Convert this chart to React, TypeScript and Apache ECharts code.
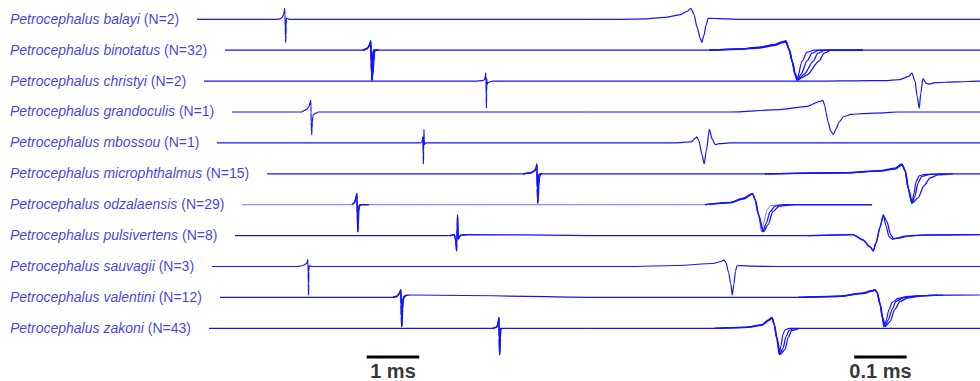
import { useEffect, useRef } from 'react';
import * as echarts from 'echarts';

// ---------- data ----------
const GENUS = 'Petrocephalus';
const SPECIES = ['balayi', 'binotatus', 'christyi', 'grandoculis', 'mbossou', 'microphthalmus', 'odzalaensis', 'pulsivertens', 'sauvagii', 'valentini', 'zakoni'];
const N_FISH = [2, 32, 2, 1, 1, 15, 29, 8, 3, 12, 43];
// start of each recording on the 1 ms time base (ms)
const TRACE_START_MS = [3.752, 4.286, 3.886, 4.419, 4.133, 5.086, 4.61, 4.476, 4.038, 4.19, 3.981];
// EOD position on the 1 ms sweep and on the 0.1 ms (expanded) sweep, in ms
const EOD_AT_1MS = [5.429, 7.067, 9.257, 5.924, 8.057, 10.229, 6.8, 8.705, 5.867, 7.638, 9.505];
const EOD_AT_01MS = [1.3238, 1.5029, 1.7429, 1.5733, 1.3333, 1.7238, 1.4381, 1.6724, 1.3848, 1.6724, 1.4743];
const RECORD_TRUNCATED = [false, false, false, false, false, false, true, false, false, false, false];

// EOD waveforms: [time (µs, relative to main transition), amplitude (a.u., up positive)]
const EOD_BALAYI = [
  [[-152, 0], [-95, 0.5], [-57, 2], [-29, 4.5], [-15, 8], [-8, 11], [-2, 5], [4, -8], [10, -19], [13, -23], [17, -16], [21, -6], [25, 1], [36, 0.8], [57, 0.4], [86, 0]],
];
const EOD_BINOTATUS = [
  [[-152, 0], [-95, 1], [-57, 2.5], [-29, 5], [-11, 8], [-6, 8.6], [0, 0], [6, -12], [11, -24], [15, -30], [25, -11], [34, -2], [48, 0], [141, 0]],
  [[-152, 0], [-95, 1.2], [-57, 3], [-29, 5.5], [-11, 8.8], [-6, 9.6], [0, 1], [6, -11], [11, -23], [16, -30], [23, -24], [34, -11], [44, -3], [57, 0], [141, 0]],
  [[-152, 0], [-95, 0.8], [-57, 2.2], [-29, 4.6], [-11, 7.5], [-5, 8], [1, 0], [7, -12], [12, -25], [17, -30], [29, -24], [46, -11], [55, -3], [69, 0], [141, 0]],
  [[-152, 0], [-95, 1], [-57, 2.6], [-29, 5.2], [-11, 8.3], [-6, 9], [0, 1], [7, -13], [12, -24], [18, -29], [34, -25], [57, -11], [67, -3], [80, 0], [141, 0]],
];
const EOD_CHRISTYI = [
  [[-170, 0], [-114, 0.3], [-57, 0.5], [-29, 1.5], [-11, 5], [-6, 8], [0, 0], [4, -15], [8, -27], [11, -12], [15, 2.5], [21, -2], [27, -3], [38, -1.5], [76, -0.8], [124, 0]],
];
const EOD_GRANDOCULIS = [
  [[-183, 0], [-88, 2.4], [-36, 5.7], [-11, 10.7], [-6, 11.7], [-2, 6], [0, 0], [4, -10], [9, -19], [14, -22.6], [19, -17], [25, -10], [34, -4.5], [48, -2.4], [70, -1.6], [110, -0.8], [135, 0]],
];
const EOD_MBOSSOU = [
  [[-48, 0], [-17, 1], [-8, 5], [-6, 6], [-2, 2], [4, -12], [8, -21], [12, -8], [18, 13.5], [23, 4], [29, -1.8], [36, -0.8], [57, 0]],
];
const EOD_MICROPHTHALMUS = [
  [[-267, 0], [-114, 1], [-48, 2.8], [-19, 5], [-6, 9.5], [0, 3], [6, -15], [13, -29.5], [17, -20], [21, -8], [27, -2], [38, -0.5], [67, 0]],
  [[-267, 0], [-114, 1.2], [-48, 3.2], [-19, 5.6], [-6, 9.8], [0, 3.5], [6, -14], [13, -29], [19, -22], [25, -9], [32, -2.5], [48, -0.5], [76, 0]],
  [[-267, 0], [-114, 0.9], [-48, 2.6], [-19, 4.6], [-5, 9], [1, 2.5], [7, -15], [14, -29], [25, -24], [36, -12], [48, -4], [63, -1], [91, 0]],
];
const EOD_ODZALAENSIS = [
  [[-95, 0], [-48, 2], [-23, 6], [-5, 11], [0, 5], [6, -10], [13, -27.4], [17, -17], [23, -5], [30, -1], [48, 0], [223, 0]],
  [[-95, 0], [-48, 2.3], [-23, 6.5], [-5, 11.3], [0, 5.5], [6, -9], [15, -27], [21, -19], [29, -7], [38, -1.5], [57, 0], [223, 0]],
  [[-95, 0], [-48, 1.8], [-23, 5.5], [-4, 10.5], [1, 4.5], [7, -10], [16, -27], [25, -20], [34, -7], [46, -1.5], [76, 0], [223, 0]],
];
const EOD_PULSIVERTENS = [
  [[-133, 0], [-48, 1], [-29, -4], [-15, -11], [-9, -15.5], [-4, -8], [4, 8], [10, 21], [15, 10], [21, -1], [27, -3.5], [36, -2.5], [51, -0.5], [76, 0.5], [191, 1]],
  [[-133, 0], [-48, 1], [-29, -4.5], [-15, -11.5], [-9, -15], [-4, -7], [4, 9], [10, 20], [17, 14], [24, 1], [30, -3], [40, -2.5], [57, -0.5], [86, 0.5], [191, 1]],
];
const EOD_SAUVAGII = [
  [[-191, 0], [-95, 1], [-27, 3], [-11, 5], [-6, 6.7], [-2, 4], [3, -6], [7, -17], [10, -28.6], [13, -18], [16, -5], [19, 0.7], [25, 0.8], [48, 0.3], [95, 0]],
];
const EOD_VALENTINI = [
  [[-152, 0], [-76, 1], [-29, 4], [-11, 6.5], [-6, 7.4], [-2, 5], [4, -8], [8, -20], [11, -29.3], [15, -24], [21, -12], [27, -5], [38, -1], [57, 1], [95, 2], [194, 2.4]],
  [[-152, 0], [-76, 1.2], [-29, 4.4], [-11, 7], [-6, 7.8], [-2, 5.5], [4, -7], [8, -19], [13, -29], [19, -23], [27, -12], [34, -4], [48, -0.5], [76, 1.5], [114, 2.2]],
  [[-152, 0], [-76, 0.9], [-29, 3.8], [-11, 6.2], [-5, 7.2], [-1, 4.5], [5, -8], [9, -20], [14, -29], [23, -24], [32, -12], [42, -4], [57, -0.5], [86, 1.5], [124, 2.2]],
];
const EOD_ZAKONI = [
  [[-114, 0], [-51, 1], [-23, 3.3], [-11, 8], [-4, 10.6], [0, 4], [5, -10], [10, -26.7], [13, -18], [17, -6], [21, -1.5], [29, 0]],
  [[-114, 0], [-51, 1.2], [-23, 3.6], [-11, 8.4], [-4, 11], [0, 4.5], [5, -9], [11, -26], [17, -20], [23, -8], [29, -2], [38, 0]],
  [[-114, 0], [-51, 0.9], [-23, 3], [-10, 7.6], [-3, 10.2], [1, 3.5], [6, -10], [12, -26], [21, -21], [27, -9], [34, -2], [48, 0]],
];
const EODS = [EOD_BALAYI, EOD_BINOTATUS, EOD_CHRISTYI, EOD_GRANDOCULIS, EOD_MBOSSOU, EOD_MICROPHTHALMUS, EOD_ODZALAENSIS, EOD_PULSIVERTENS, EOD_SAUVAGII, EOD_VALENTINI, EOD_ZAKONI];

// sweeps (ms)
const SWEEP_1MS_END = 11.24;
const SWEEP_01MS_START = 1.124;
const SCALE_BAR_1MS = [6.985, 7.985];
const SCALE_BAR_01MS = [1.627, 1.727];
const SCALE_LABELS = ['1 ms', '0.1 ms'];

// ---------- layout / style ----------
const W = 980;
const H = 381;
const PX_PER_MS_SLOW = 52.5;
const PX_PER_MS_FAST = 525;
const ROW_GAP = 30.9;
const Y_TOP = 19.3;
const BAR_LEVEL = Y_TOP - 357;
const BAR_TEXT_LEVEL = Y_TOP - 370.5;
const LABEL_X_MS = 9.5 / PX_PER_MS_SLOW;
const LINE_COLOR = '#1414ff';
const TEXT_COLOR = '#0c0ce6';
const FONT = '"Liberation Sans", Arial, Helvetica, sans-serif';
const THIN = [false, false, false, false, false, false, true, false, false, false, false];

function buildOption() {
  const series: any[] = [];
  const slowMax = W / PX_PER_MS_SLOW;
  const fastMax = W / PX_PER_MS_FAST;

  const line = (axis: number, data: number[][], width: number) => ({
    type: 'line',
    xAxisIndex: axis,
    yAxisIndex: axis,
    data,
    showSymbol: false,
    symbol: 'none',
    smooth: 0.25,
    smoothMonotone: 'x',
    silent: true,
    lineStyle: { color: LINE_COLOR, width, opacity: 1 },
    z: 2,
  });

  SPECIES.forEach((sp, i) => {
    const off = -ROW_GAP * i;
    EODS[i].forEach((tr, k) => {
      const width = k === 0 ? (THIN[i] ? 0.6 : 1.2) : 1.3;
      const first = tr[0][1];
      const last = tr[tr.length - 1][1];
      const slow = tr.map(([us, a]) => [EOD_AT_1MS[i] + us / 1000, off + a]);
      const fast = tr.map(([us, a]) => [EOD_AT_01MS[i] + us / 1000, off + a]);
      if (k === 0) {
        slow.unshift([TRACE_START_MS[i], off + first]);
        slow.push([SWEEP_1MS_END, off + first]);
        fast.unshift([SWEEP_01MS_START, off + first]);
        if (!RECORD_TRUNCATED[i]) fast.push([fastMax, off + last]);
      }
      series.push(line(0, slow, width));
      series.push(line(1, fast, width));
    });
  });

  // species labels
  series.push({
    type: 'scatter',
    xAxisIndex: 0,
    yAxisIndex: 0,
    symbolSize: 1,
    itemStyle: { color: 'rgba(0,0,0,0)' },
    silent: true,
    data: SPECIES.map((sp, i) => ({ value: [LABEL_X_MS, -ROW_GAP * i + 0.6], name: sp })),
    label: {
      show: true,
      position: 'right',
      distance: 0,
      color: TEXT_COLOR,
      fontSize: 14,
      fontFamily: FONT,
      formatter: (p: any) => `{i|${GENUS} ${SPECIES[p.dataIndex]}} {n|(N=${N_FISH[p.dataIndex]})}`,
      rich: {
        i: { fontStyle: 'italic', fontSize: 14, fontFamily: FONT, color: TEXT_COLOR },
        n: { fontSize: 14, fontFamily: FONT, color: TEXT_COLOR },
      },
    },
  });

  // scale bars
  const bars = [SCALE_BAR_1MS, SCALE_BAR_01MS];
  bars.forEach((b, k) => {
    series.push({
      type: 'line',
      xAxisIndex: k,
      yAxisIndex: k,
      data: [[b[0], BAR_LEVEL], [b[1], BAR_LEVEL]],
      showSymbol: false,
      symbol: 'none',
      silent: true,
      lineStyle: { color: '#000', width: 3, cap: 'butt' },
    });
    series.push({
      type: 'scatter',
      xAxisIndex: k,
      yAxisIndex: k,
      symbolSize: 1,
      silent: true,
      itemStyle: { color: 'rgba(0,0,0,0)' },
      data: [[(b[0] + b[1]) / 2, BAR_TEXT_LEVEL]],
      label: {
        show: true,
        position: 'inside',
        formatter: SCALE_LABELS[k],
        color: '#000',
        fontSize: 20,
        fontWeight: 'bold',
        fontFamily: FONT,
      },
    });
  });

  const grid = { left: 0, right: 0, top: 0, bottom: 0, containLabel: false };
  const yAxis = (g: number) => ({ type: 'value', gridIndex: g, min: Y_TOP - H, max: Y_TOP, show: false, scale: false });
  return {
    animation: false,
    backgroundColor: '#ffffff',
    grid: [grid, { ...grid }],
    xAxis: [
      { type: 'value', gridIndex: 0, min: 0, max: slowMax, show: false },
      { type: 'value', gridIndex: 1, min: 0, max: fastMax, show: false },
    ],
    yAxis: [yAxis(0), yAxis(1)],
    series,
  };
}

export default function App() {
  const ref = useRef<HTMLDivElement>(null);
  useEffect(() => {
    document.body.style.margin = '0';
    if (!ref.current) return;
    const chart = echarts.init(ref.current, undefined, { renderer: 'svg' });
    chart.setOption(buildOption() as any);
    return () => chart.dispose();
  }, []);
  return <div ref={ref} style={{ width: W, height: H }} />;
}
